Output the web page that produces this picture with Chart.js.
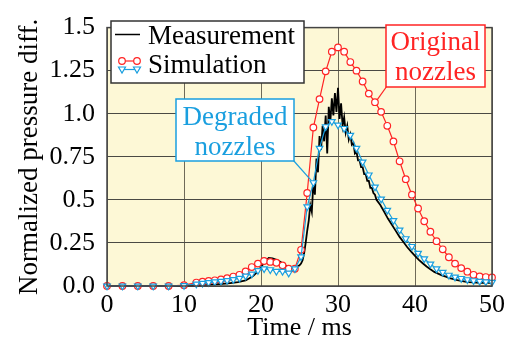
<!DOCTYPE html>
<html>
<head>
<meta charset="utf-8">
<script src="https://cdn.jsdelivr.net/npm/chart.js@4.4.1/dist/chart.umd.min.js"></script>
<style>
  html, body { margin: 0; padding: 0; background: #fff; }
</style>
</head>
<body>
<canvas id="myChart" width="511" height="345"></canvas>
<script>
// simulation time points (ms)
var simTime = [0, 2, 4, 6, 8, 10,
  11.6, 12.4, 13.2, 14.0, 14.8, 15.6, 16.4, 17.2, 18.0, 18.8, 19.6, 20.4, 21.2, 22.0, 22.8, 23.6, 24.4, 25.2,
  26.0, 26.8, 27.6, 28.4, 29.2, 30.0, 30.8, 31.6, 32.4, 33.2, 34.0, 34.8, 35.6, 36.4, 37.2, 38.0, 38.8,
  39.6, 40.4, 41.2, 42.0, 42.8, 43.6, 44.4, 45.2, 46.0, 46.8, 47.6, 48.4, 49.2, 50.0];

// Simulation - original nozzles (red circles)
var originalValues = [0, 0, 0, 0, 0, 0.005,
  0.02, 0.025, 0.03, 0.033, 0.038, 0.045, 0.055, 0.065, 0.085, 0.11, 0.13, 0.145, 0.14, 0.135, 0.12, 0.10, 0.10, 0.21,
  0.54, 0.92, 1.085, 1.246, 1.36, 1.385, 1.36, 1.30, 1.25, 1.187, 1.117, 1.067, 1.011, 0.93, 0.839, 0.724, 0.62,
  0.53, 0.45, 0.376, 0.315, 0.26, 0.213, 0.167, 0.13, 0.104, 0.083, 0.065, 0.056, 0.052, 0.05];

// Simulation - degraded nozzles (blue triangles)
var degradedValues = [0, 0, 0, 0, 0, 0.003,
  0.012, 0.016, 0.02, 0.024, 0.028, 0.032, 0.038, 0.045, 0.058, 0.07, 0.09, 0.10, 0.095, 0.085, 0.085, 0.075, 0.10, 0.17,
  0.46, 0.60, 0.80, 0.925, 0.955, 0.935, 0.915, 0.875, 0.80, 0.72, 0.645, 0.575, 0.505, 0.44, 0.38, 0.325, 0.275,
  0.23, 0.19, 0.158, 0.128, 0.10, 0.08, 0.063, 0.052, 0.044, 0.037, 0.031, 0.027, 0.024, 0.022];

// Measurement (black line)
var measTime = [0, 1, 2, 3, 4, 5, 6, 7, 8, 9, 10, 11, 12, 13, 14, 15, 16, 17, 18,
  18.5, 19, 19.5, 20, 20.5, 21, 21.5, 22, 22.5, 23, 23.5, 24, 24.5, 25,
  25.2, 25.4, 25.6, 25.8, 26.0, 26.2, 26.4, 26.6, 26.8, 27.0, 27.2, 27.4, 27.6, 27.8, 28.0, 28.2, 28.4, 28.6, 28.8, 29.0,
  29.2, 29.4, 29.6, 29.8, 30.0, 30.2, 30.4, 30.6, 30.8, 31.0, 31.2, 31.4, 31.6, 31.8, 32.0, 32.2, 32.4, 32.6, 32.8, 33.0,
  33.2, 33.4, 33.6, 33.8, 34.0, 34.2, 34.4, 34.6, 34.8, 35.0,
  35.5, 36, 36.5, 37, 37.5, 38, 38.5, 39, 39.5, 40, 40.5, 41, 41.5, 42, 42.5, 43, 43.5, 44, 44.5, 45,
  45.5, 46, 46.5, 47, 47.5, 48, 48.5, 49, 49.5, 50];
var measValues = [0, 0, 0, 0, 0, 0, 0, 0, 0, 0, 0, 0.002, 0.004, 0.006, 0.009, 0.012, 0.017, 0.023, 0.032,
  0.045, 0.06, 0.08, 0.11, 0.14, 0.163, 0.16, 0.152, 0.14, 0.125, 0.112, 0.10, 0.105, 0.12,
  0.13, 0.15, 0.19, 0.25, 0.32, 0.38, 0.47, 0.43, 0.60, 0.53, 0.74, 0.66, 0.87, 0.79, 0.93, 0.84, 0.99, 0.77, 1.04, 0.95,
  1.09, 0.99, 1.12, 1.01, 1.15, 0.97, 1.06, 0.93, 0.98, 0.89, 0.93, 0.85, 0.88, 0.82, 0.83, 0.77, 0.78, 0.73, 0.73, 0.69,
  0.69, 0.65, 0.65, 0.61, 0.61, 0.57, 0.57, 0.54, 0.53, 0.50,
  0.47, 0.43, 0.39, 0.355, 0.32, 0.285, 0.255, 0.225, 0.2, 0.175, 0.152, 0.132, 0.113, 0.097, 0.082, 0.072, 0.062, 0.054, 0.046, 0.04,
  0.034, 0.03, 0.026, 0.023, 0.021, 0.02, 0.019, 0.018, 0.018, 0.018];

var yTickLabels = ["0.0", "0.25", "0.5", "0.75", "1.0", "1.25", "1.5"];
var xTickLabels = ["0", "10", "20", "30", "40", "50"];

var seriesNames = ["Measurement", "Simulation"];
var noteOriginal = ["Original", "nozzles"];
var noteDegraded = ["Degraded", "nozzles"];

var RED = "#ff2424";
var BLUE = "#1a9fdf";
var SERIF = "'Liberation Serif', 'Times New Roman', serif";

function pairs(xs, ys) {
  var out = [];
  for (var i = 0; i < xs.length; i++) out.push({x: xs[i], y: ys[i]});
  return out;
}

var extras = {
  id: "extras",
  beforeDraw: function(chart) {
    var a = chart.chartArea, ctx = chart.ctx;
    ctx.save();
    ctx.fillStyle = "#fdf8d6";
    ctx.fillRect(a.left, a.top, a.right - a.left, a.bottom - a.top);
    ctx.restore();
  },
  afterDraw: function(chart) {
    var a = chart.chartArea, ctx = chart.ctx;
    var xs = chart.scales.x, ys = chart.scales.y;
    ctx.save();
    // plot frame
    ctx.strokeStyle = "#444";
    ctx.lineWidth = 1.5;
    ctx.strokeRect(a.left, a.top, a.right - a.left, a.bottom - a.top);

    // legend
    ctx.fillStyle = "#fff";
    ctx.fillRect(111, 21, 193, 62);
    ctx.strokeStyle = "#333";
    ctx.strokeRect(111, 21, 193, 62);
    ctx.strokeStyle = "#000";
    ctx.lineWidth = 1.5;
    ctx.beginPath(); ctx.moveTo(115, 34.5); ctx.lineTo(140, 34.5); ctx.stroke();
    ctx.lineWidth = 1.2;
    ctx.strokeStyle = RED;
    ctx.beginPath(); ctx.moveTo(122, 61); ctx.lineTo(137, 61); ctx.stroke();
    [122, 137].forEach(function(cx) {
      ctx.beginPath(); ctx.arc(cx, 61, 3.3, 0, Math.PI * 2);
      ctx.fillStyle = "#fff"; ctx.fill(); ctx.stroke();
    });
    ctx.strokeStyle = BLUE;
    ctx.beginPath(); ctx.moveTo(122, 69.5); ctx.lineTo(137, 69.5); ctx.stroke();
    [122, 137].forEach(function(cx) {
      ctx.beginPath(); ctx.moveTo(cx - 3.5, 67); ctx.lineTo(cx + 3.5, 67); ctx.lineTo(cx, 73); ctx.closePath();
      ctx.fillStyle = "#fff"; ctx.fill(); ctx.stroke();
    });
    ctx.fillStyle = "#000";
    ctx.font = "27px " + SERIF;
    ctx.textBaseline = "alphabetic";
    ctx.textAlign = "left";
    ctx.fillText(seriesNames[0], 148, 44);
    ctx.fillText(seriesNames[1], 148, 73);

    // "Original nozzles" note
    var px = xs.getPixelForValue(simTime[35]), py = ys.getPixelForValue(originalValues[35]);
    ctx.strokeStyle = RED;
    ctx.lineWidth = 1.2;
    ctx.beginPath(); ctx.moveTo(387, 86); ctx.lineTo(px + 2, py - 2); ctx.stroke();
    ctx.fillStyle = "#fff";
    ctx.fillRect(386, 25, 99, 62);
    ctx.lineWidth = 1.5;
    ctx.strokeRect(386, 25, 99, 62);
    ctx.fillStyle = RED;
    ctx.textAlign = "center";
    ctx.fillText(noteOriginal[0], 435.5, 50);
    ctx.fillText(noteOriginal[1], 435.5, 80);

    // "Degraded nozzles" note
    px = xs.getPixelForValue(simTime[25]); py = ys.getPixelForValue(degradedValues[25]);
    ctx.strokeStyle = BLUE;
    ctx.lineWidth = 1.2;
    ctx.beginPath(); ctx.moveTo(293, 160); ctx.lineTo(px - 2, py - 2); ctx.stroke();
    ctx.fillStyle = "#fff";
    ctx.fillRect(176, 99, 118, 62);
    ctx.lineWidth = 1.5;
    ctx.strokeRect(176, 99, 118, 62);
    ctx.fillStyle = BLUE;
    ctx.fillText(noteDegraded[0], 235, 125);
    ctx.fillText(noteDegraded[1], 235, 155);
    ctx.restore();
  }
};

new Chart("myChart", {
  type: "line",
  data: {
    datasets: [{
      label: "Simulation (degraded nozzles)",
      data: pairs(simTime, degradedValues),
      borderColor: BLUE,
      borderWidth: 1.2,
      pointStyle: "triangle",
      rotation: 180,
      pointRadius: 3.8,
      pointBorderWidth: 1.2,
      pointBackgroundColor: "#fff",
      pointBorderColor: BLUE,
      clip: false
    }, {
      label: "Simulation (original nozzles)",
      data: pairs(simTime, originalValues),
      borderColor: RED,
      borderWidth: 1.2,
      pointStyle: "circle",
      pointRadius: 3.3,
      pointBorderWidth: 1.2,
      pointBackgroundColor: "#fff",
      pointBorderColor: RED,
      clip: false
    }, {
      label: "Measurement",
      data: pairs(measTime, measValues),
      borderColor: "#000",
      borderWidth: 1.8,
      pointRadius: 0,
      clip: false
    }]
  },
  options: {
    responsive: false,
    devicePixelRatio: 1,
    animation: false,
    layout: {padding: {top: 16, right: 19, left: 0, bottom: 0}},
    plugins: {
      legend: {display: false},
      tooltip: {enabled: false}
    },
    elements: {line: {tension: 0}},
    scales: {
      x: {
        type: "linear",
        min: 0, max: 50,
        afterFit: function(s) { s.height = 59; },
        grid: {color: "#6f6a58", lineWidth: 1, drawTicks: false},
        border: {display: false},
        ticks: {
          stepSize: 10, autoSkip: false, maxRotation: 0, padding: 4, color: "#000",
          font: {family: SERIF, size: 26},
          callback: function(v) { return xTickLabels[Math.round(v / 10)]; }
        },
        title: {display: true, text: "Time / ms", color: "#000", font: {family: SERIF, size: 26}, padding: {top: 0, bottom: 1}}
      },
      y: {
        min: 0, max: 1.5,
        afterFit: function(s) { s.width = 107; },
        grid: {color: "#4a4a44", lineWidth: 1, drawTicks: false},
        border: {display: false},
        ticks: {
          stepSize: 0.25, autoSkip: false, padding: 12, color: "#000",
          font: {family: SERIF, size: 26},
          callback: function(v) { return yTickLabels[Math.round(v / 0.25)]; }
        },
        title: {display: true, text: "Normalized pressure diff.", color: "#000", font: {family: SERIF, size: 27}, padding: {top: 14, bottom: 0}}
      }
    }
  },
  plugins: [extras]
});
</script>
</body>
</html>
